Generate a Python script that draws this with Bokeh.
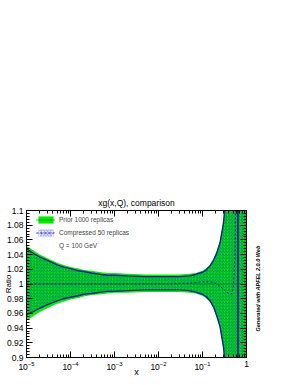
import math
from bokeh.plotting import figure
from bokeh.models import (LogAxis, LinearAxis, FixedTicker, Label, Legend,
                          LegendItem, ColumnDataSource)
from bokeh.embed import file_html
from bokeh.resources import INLINE

# ---------------- data ----------------
x_vals = [1e-5, 1.5e-5, 2e-5, 3e-5, 5e-5, 7e-5, 1e-4, 1.5e-4, 2e-4, 3e-4,
          5e-4, 7e-4, 1e-3, 2e-3, 5e-3, 1e-2, 2e-2, 3e-2, 5e-2, 7e-2,
          0.1, 0.12, 0.15, 0.18, 0.21, 0.25, 0.3, 0.35, 0.4, 0.45,
          0.5, 0.55, 0.58, 0.6, 0.63, 0.64, 0.7, 0.8, 1.0]

prior_upper = [1.052, 1.045, 1.040, 1.035, 1.029, 1.026, 1.023, 1.021, 1.019, 1.018,
               1.016, 1.015, 1.015, 1.014, 1.013, 1.013, 1.013, 1.013, 1.014, 1.015,
               1.018, 1.021, 1.027, 1.035, 1.044, 1.058, 1.085, 1.13, 1.2, 1.3,
               1.5, 2.0, 3.0, 5.0, 30.0, 30.0, 5.0, 3.0, 2.0]
prior_lower = [0.950, 0.957, 0.962, 0.967, 0.973, 0.976, 0.979, 0.981, 0.983, 0.985,
               0.986, 0.987, 0.988, 0.988, 0.989, 0.989, 0.989, 0.989, 0.988, 0.987,
               0.984, 0.981, 0.975, 0.966, 0.955, 0.940, 0.912, 0.87, 0.80, 0.70,
               0.50, 0.0, -1.0, -3.0, -30.0, -30.0, -3.0, -1.0, 0.0]
prior_central = [1.0] * 39

comp_upper = [1.048, 1.041, 1.037, 1.032, 1.026, 1.023, 1.021, 1.018, 1.017, 1.015,
              1.013, 1.012, 1.012, 1.011, 1.010, 1.010, 1.010, 1.010, 1.011, 1.013,
              1.016, 1.019, 1.025, 1.033, 1.042, 1.056, 1.083, 1.128, 1.19, 1.29,
              1.48, 1.9, 2.8, 4.5, 30.0, -30.0, -4.0, -2.0, -1.0]
comp_lower = [0.958, 0.963, 0.967, 0.972, 0.977, 0.980, 0.982, 0.984, 0.986, 0.987,
              0.989, 0.990, 0.990, 0.991, 0.992, 0.992, 0.992, 0.992, 0.991, 0.989,
              0.986, 0.983, 0.977, 0.968, 0.957, 0.942, 0.914, 0.872, 0.80, 0.71,
              0.52, 0.1, -0.8, -2.5, -30.0, 30.0, 4.0, 2.0, 1.5]
comp_central = [1.000, 1.000, 1.000, 1.000, 1.000, 1.000, 1.000, 1.000, 1.000, 1.000,
                1.000, 1.000, 1.000, 1.000, 1.000, 1.000, 1.000, 1.001, 1.001, 1.002,
                1.003, 1.003, 1.003, 1.002, 1.000, 0.997, 0.993, 0.989, 0.987, 0.986,
                0.994, 1.04, 1.2, 1.6, 30.0, -30.0, -3.0, 0.5, 0.8]

x_tick_values = [1e-5, 1e-4, 1e-3, 1e-2, 1e-1, 1.0]
x_minor_values = [k * 10.0 ** e for e in range(-5, 0) for k in range(2, 10)]
y_tick_values = [0.9, 0.92, 0.94, 0.96, 0.98, 1.0, 1.02, 1.04, 1.06, 1.08, 1.1]
y_tick_labels = ["0.9", "0.92", "0.94", "0.96", "0.98", "1", "1.02", "1.04",
                 "1.06", "1.08", "1.1"]
y_minor_values = [round(0.9 + 0.004 * i, 3) for i in range(51)]

title_text = "xg(x,Q), comparison"
x_label = "x"
y_label = "Ratio"
side_note = "Generated with APFEL 2.0.0 Web"
legend_labels = ["Prior 1000 replicas", "Compressed 50 replicas", "Q = 100 GeV"]
FONT = "Liberation Sans"

# ---------------- figure ----------------
p = figure(x_axis_type="log", x_range=(1e-5, 1.0), y_range=(0.9, 1.1),
           frame_width=220, frame_height=147,
           min_border_left=20, min_border_right=42, min_border_top=210,
           min_border_bottom=20,
           output_backend="svg", toolbar_location=None, title=title_text)
p.background_fill_color = "white"
p.border_fill_color = "white"
p.outline_line_color = "black"
p.outline_line_width = 1
p.xgrid.visible = False
p.ygrid.visible = False

p.title.align = "center"
p.title.text_font = FONT
p.title.text_font_size = "8.5px"
p.title.text_font_style = "normal"
p.title.text_color = "black"
p.title.standoff = 6

src = ColumnDataSource(dict(x=x_vals, pu=prior_upper, pl=prior_lower,
                            pc=prior_central, cu=comp_upper, cl=comp_lower,
                            cc=comp_central))

g_band = p.varea(x="x", y1="pl", y2="pu", source=src,
                 fill_color="#00f000", fill_alpha=1.0)
h_band = p.varea(x="x", y1="cl", y2="cu", source=src,
                 fill_alpha=0.0, hatch_pattern="/", hatch_color="#1020c0",
                 hatch_alpha=0.45, hatch_scale=3.2, hatch_weight=0.9)
p.line(x="x", y="cu", source=src, line_color="#1a1a9a", line_width=1.4)
p.line(x="x", y="cl", source=src, line_color="#1a1a9a", line_width=1.4)
pc_line = p.line(x="x", y="pc", source=src, line_color="#0a5a0a",
                 line_width=1, line_dash="1 1")
cc_line = p.line(x="x", y="cc", source=src, line_color="#1a1aaa",
                 line_width=1, line_dash="2 2")
# invisible renderer that only carries the "Q = 100 GeV" legend text
q_src = ColumnDataSource(dict(x=[x_vals[0]], y=[prior_central[0]]))
dummy = p.line(x="x", y="y", source=q_src, line_alpha=0)

legend = Legend(items=[LegendItem(label=legend_labels[0], renderers=[g_band, pc_line]),
                       LegendItem(label=legend_labels[1], renderers=[h_band, cc_line]),
                       LegendItem(label=legend_labels[2], renderers=[dummy])],
                location=(10, 107), padding=0, margin=0, spacing=4,
                glyph_width=19, glyph_height=9, label_height=9, label_standoff=4,
                label_text_font=FONT, label_text_font_size="6.5px",
                border_line_alpha=0, background_fill_alpha=0)
p.add_layout(legend, "center")

# ---------------- axes ----------------
xt = FixedTicker(ticks=x_tick_values, minor_ticks=x_minor_values)
yt = FixedTicker(ticks=y_tick_values, minor_ticks=y_minor_values)


def style_axis(ax, show_labels):
    ax.axis_line_color = "black"
    ax.major_tick_line_color = "black"
    ax.minor_tick_line_color = "black"
    ax.major_tick_in = 6
    ax.major_tick_out = 0
    ax.minor_tick_in = 3
    ax.minor_tick_out = 0
    ax.axis_label_text_font = FONT
    ax.axis_label_text_font_style = "normal"
    ax.axis_label_text_color = "black"
    if show_labels:
        ax.major_label_text_font = FONT
        ax.major_label_text_font_size = "8.5px"
        ax.major_label_text_color = "black"
        ax.major_label_standoff = 3
    else:
        ax.major_label_text_font_size = "1px"
        ax.major_label_text_alpha = 0
        ax.major_label_standoff = 0


p.xaxis.ticker = xt
p.xaxis.major_label_overrides = {1.0: "1"}
style_axis(p.xaxis[0], True)
p.xaxis.axis_label = x_label
p.xaxis.axis_label_text_font_size = "9px"
p.xaxis.axis_label_standoff = -6

p.yaxis.ticker = yt
p.yaxis.major_label_overrides = dict(zip(y_tick_values, y_tick_labels))
style_axis(p.yaxis[0], True)
p.yaxis.axis_label = y_label
p.yaxis.axis_label_text_font_size = "8px"
p.yaxis.axis_label_standoff = -9

top_ax = LogAxis(ticker=xt)
style_axis(top_ax, False)
p.add_layout(top_ax, "above")
right_ax = LinearAxis(ticker=yt)
style_axis(right_ax, False)
p.add_layout(right_ax, "right")

# side note, placed in the right border panel
p.add_layout(Label(x=11, y=69, x_units="screen", y_units="screen",
                   text=side_note,
                   angle=math.pi / 2, text_align="center", text_baseline="middle",
                   text_font=FONT, text_font_size="5.5px",
                   text_font_style="bold italic", text_color="black"), "right")

open("out.html", "w").write(file_html(p, INLINE))
